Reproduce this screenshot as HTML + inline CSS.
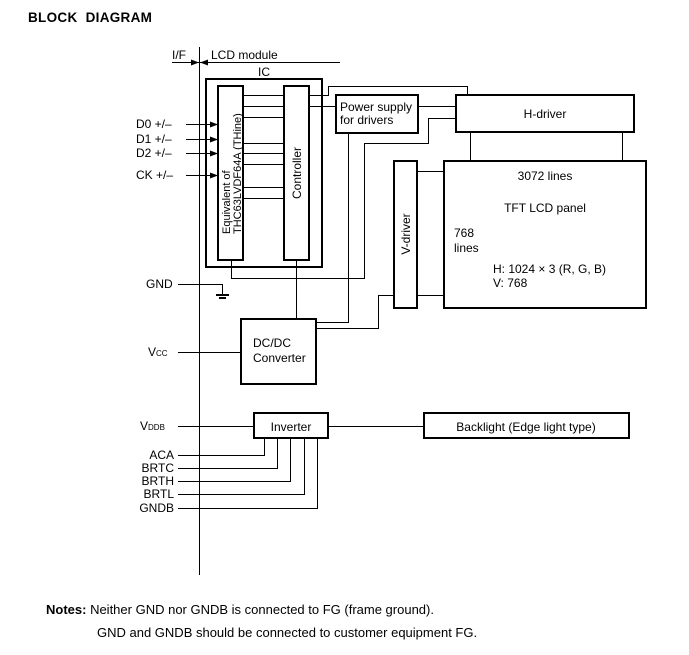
<!DOCTYPE html>
<html><head><meta charset="utf-8"><style>
html,body{margin:0;padding:0;background:#fff;}
svg{display:block;font-family:"Liberation Sans",sans-serif;}
</style></head><body>
<svg width="689" height="655" viewBox="0 0 689 655" xmlns="http://www.w3.org/2000/svg">
<defs><marker id="a" markerWidth="8" markerHeight="6" refX="7" refY="3" orient="auto" markerUnits="userSpaceOnUse"><path d="M0,0 L8,3 L0,6z" fill="#000"/></marker></defs>
<text x="28" y="22" font-size="13.5" font-weight="bold" letter-spacing="0.3" xml:space="preserve" style="white-space:pre">BLOCK  DIAGRAM</text>
<g stroke="#000" fill="none" stroke-width="1">
<line x1="199.5" y1="47" x2="199.5" y2="575"/>
<line x1="172" y1="62.5" x2="340" y2="62.5"/>
<line x1="172" y1="62.5" x2="198" y2="62.5" marker-end="url(#a)"/>
<line x1="225" y1="62.5" x2="201" y2="62.5" marker-end="url(#a)"/>
</g>
<g stroke="#000" fill="none" stroke-width="2">
<rect x="206" y="79" width="116" height="188"/>
<rect x="218" y="86" width="25" height="174"/>
<rect x="284" y="86" width="25" height="174"/>
<rect x="336" y="95" width="82" height="38"/>
<rect x="456" y="95" width="178" height="37"/>
<rect x="394" y="161" width="23" height="147"/>
<rect x="444" y="161" width="202" height="147"/>
<rect x="241" y="319" width="75" height="65"/>
<rect x="254" y="413" width="74" height="25"/>
<rect x="424" y="413" width="205" height="25"/>
</g>
<g stroke="#000" fill="none" stroke-width="1">
<path d="M243 95.5H284M243 106.5H284M243 117.5H284M243 143.5H284M243 153.5H284M243 164.5H284M243 187.5H284M243 198.5H284"/>
<line x1="186" y1="124.5" x2="217" y2="124.5" marker-end="url(#a)"/>
<line x1="186" y1="139.5" x2="217" y2="139.5" marker-end="url(#a)"/>
<line x1="186" y1="153.5" x2="217" y2="153.5" marker-end="url(#a)"/>
<line x1="186" y1="175.5" x2="217" y2="175.5" marker-end="url(#a)"/>
<path d="M309 95.5H328.5V86.5H467.5V95"/>
<path d="M309 106.5H336"/>
<path d="M418 106.5H456"/>
<path d="M456 118.5H428.5V143.5H364.5V278.5H231.5V260"/>
<path d="M348.5 133V322.5H316"/>
<path d="M296.5 260V319"/>
<path d="M394 295.5H378.5V328.5H316"/>
<path d="M417 171.5H444M417 295.5H444"/>
<path d="M470.5 132V161M622.5 132V161"/>
<path d="M178 284.5H222.5V294"/>
<path d="M178 352.5H241"/>
<path d="M178 426.5H254"/>
<path d="M328 426.5H424"/>
<path d="M178 455.5H264.5V438M178 468.5H277.5V438M178 481.5H290.5V438M178 494.5H304.5V438M178 508.5H317.5V438"/>
</g>
<rect x="216" y="294" width="13" height="2" fill="#000"/>
<rect x="219" y="297" width="7" height="2" fill="#000"/>
<g font-size="12" fill="#000">
<text x="172" y="59">I/F</text>
<text x="211" y="59">LCD module</text>
<text x="258" y="76">IC</text>
<text x="136" y="128">D0 +/–</text>
<text x="136" y="143">D1 +/–</text>
<text x="136" y="157">D2 +/–</text>
<text x="136" y="179">CK +/–</text>
<text x="146" y="288">GND</text>
<text x="148" y="356">V<tspan font-size="8">CC</tspan></text>
<text x="140" y="430">V<tspan font-size="8">DDB</tspan></text>
<g text-anchor="end">
<text x="174" y="459">ACA</text>
<text x="174" y="472">BRTC</text>
<text x="174" y="485">BRTH</text>
<text x="174" y="498">BRTL</text>
<text x="174" y="512">GNDB</text>
</g>
<text x="340" y="111">Power supply</text>
<text x="340" y="124">for drivers</text>
<text x="545" y="118" text-anchor="middle">H-driver</text>
<text x="545" y="180" text-anchor="middle">3072 lines</text>
<text x="545" y="212" text-anchor="middle">TFT LCD panel</text>
<text x="454" y="237">768</text>
<text x="454" y="252">lines</text>
<text x="493" y="273">H:  1024 × 3 (R, G, B)</text>
<text x="493" y="287">V:  768</text>
<text x="253" y="347">DC/DC</text>
<text x="253" y="362">Converter</text>
<text x="291" y="431" text-anchor="middle">Inverter</text>
<text x="526" y="431" text-anchor="middle">Backlight (Edge light type)</text>
<text transform="translate(301,173) rotate(-90)" text-anchor="middle">Controller</text>
<text transform="translate(410,234) rotate(-90)" text-anchor="middle">V-driver</text>
<text transform="translate(230,234) rotate(-90)" font-size="11">Equivalent of</text>
<text transform="translate(241,234) rotate(-90)" font-size="11">THC63LVDF64A (THine)</text>
<text x="46" y="614" font-size="13"><tspan font-weight="bold">Notes:</tspan> Neither GND nor GNDB is connected to FG (frame ground).</text>
<text x="97" y="637" font-size="13">GND and GNDB should be connected to customer equipment FG.</text>
</g>
</svg>
</body></html>
